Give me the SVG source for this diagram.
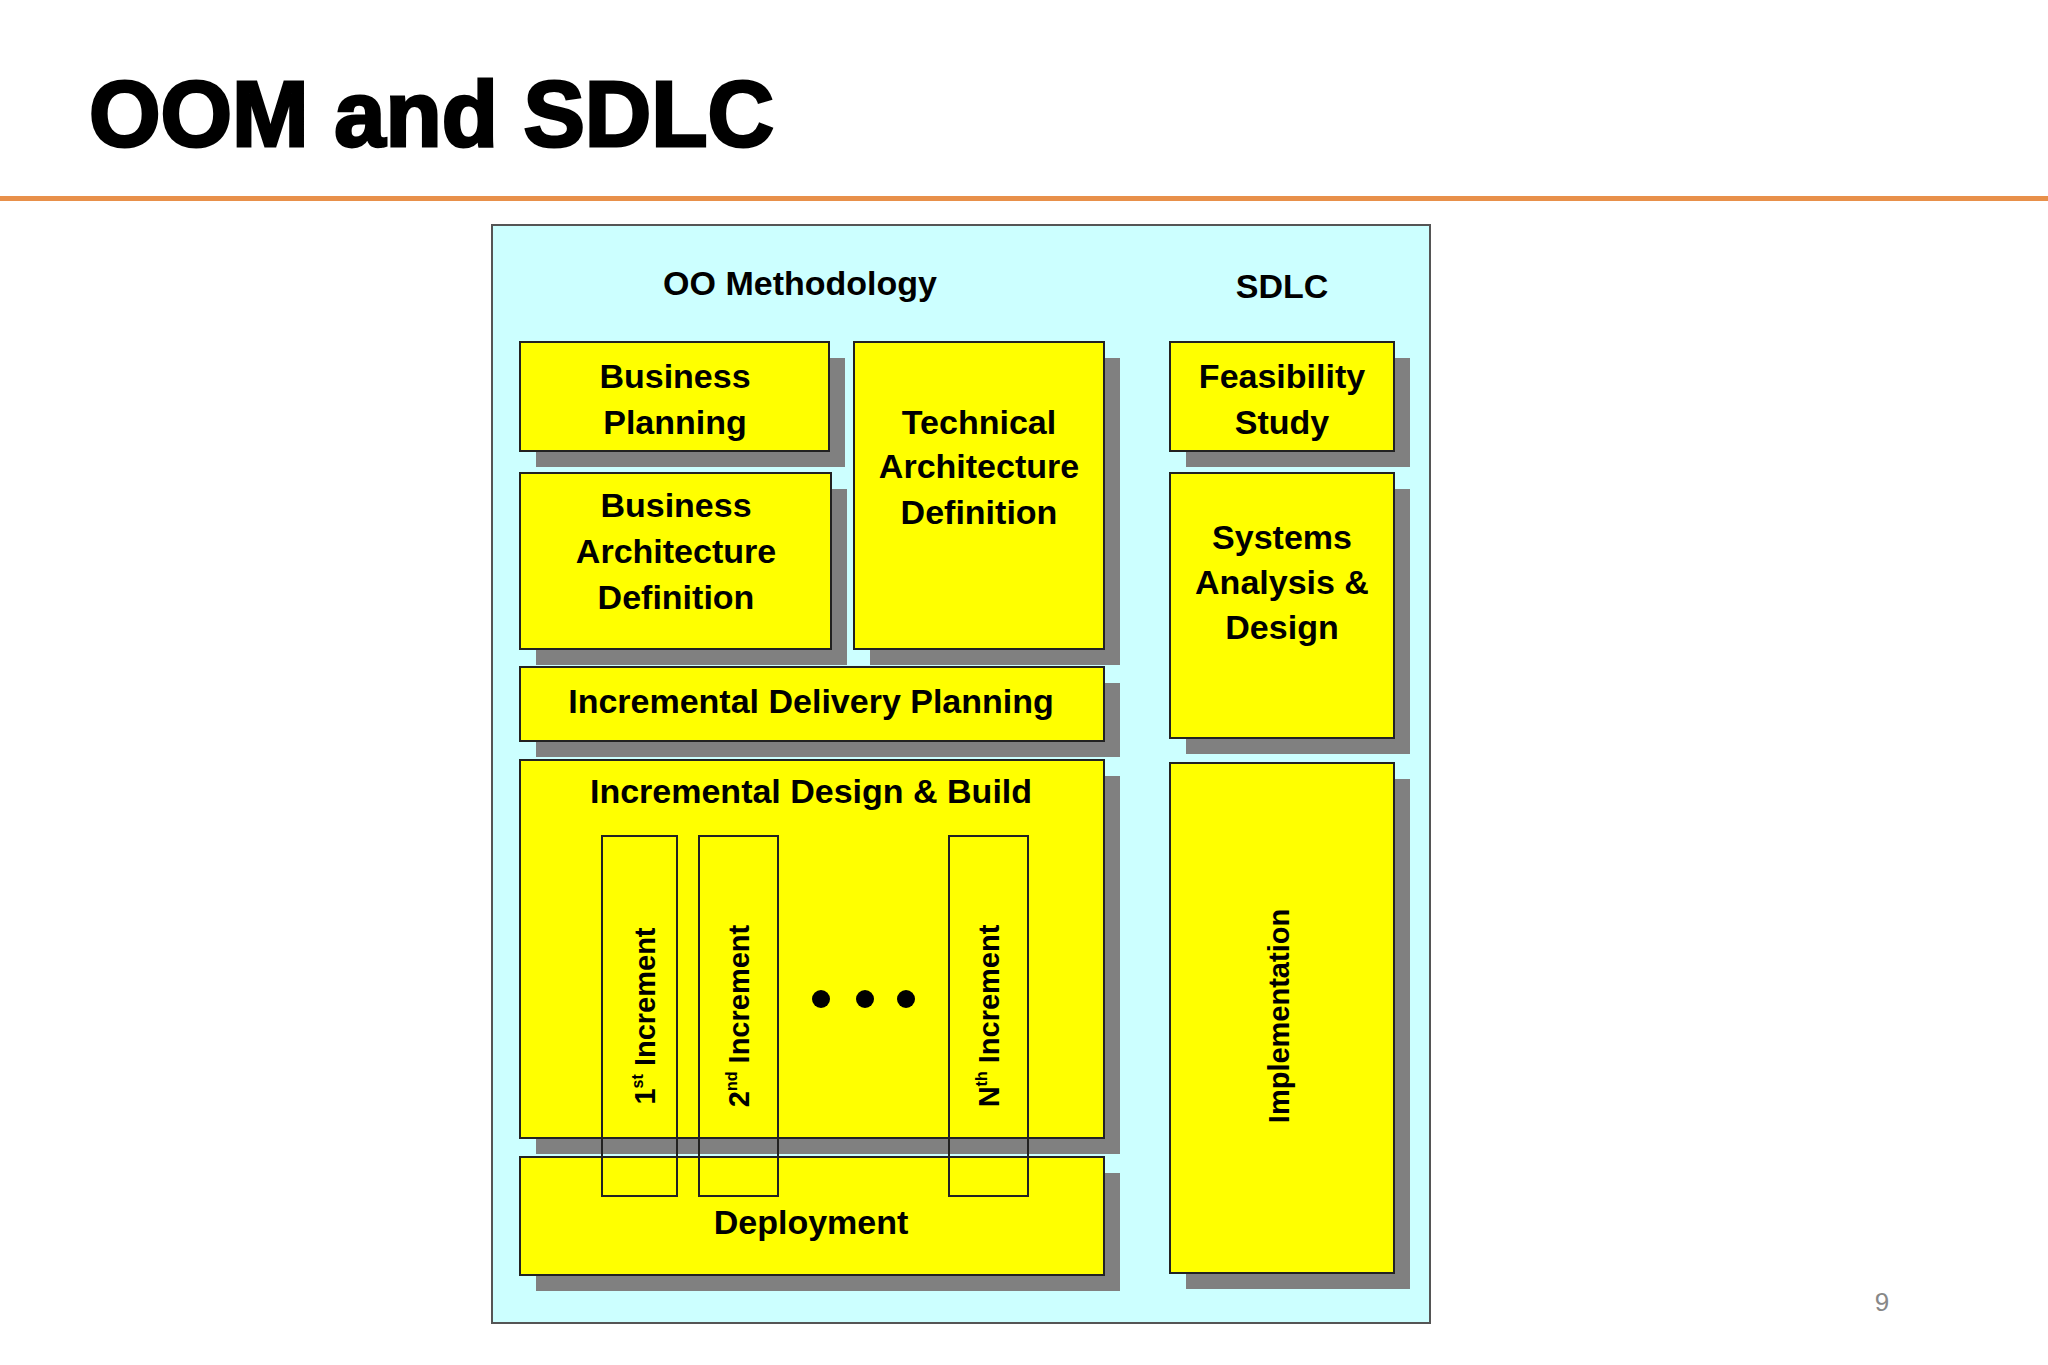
<svg xmlns="http://www.w3.org/2000/svg" width="2048" height="1365" viewBox="0 0 2048 1365">
<defs><style>
.box{fill:#ffff00;stroke:#222;stroke-width:2}
.sh{fill:#808080}
.t{font-family:"Liberation Sans",Arial,sans-serif;font-weight:bold;font-size:34px;fill:#000;text-anchor:middle}
.r{font-family:"Liberation Sans",Arial,sans-serif;font-weight:bold;font-size:29px;fill:#000;text-anchor:middle}
.inc{fill:none;stroke:#222;stroke-width:2}
</style></defs>
<rect width="2048" height="1365" fill="#fff"/>
<text x="89" y="146" font-family="'Liberation Sans',Arial,sans-serif" font-weight="900" font-size="92" fill="#000" stroke="#000" stroke-width="3">OOM and SDLC</text>
<rect x="0" y="196" width="2048" height="5" fill="#E8904A"/>
<rect x="492" y="225" width="938" height="1098" fill="#ccffff" stroke="#555" stroke-width="2"/>
<text class="t" x="800" y="295" font-size="36">OO Methodology</text>
<text class="t" x="1282" y="298" font-size="36">SDLC</text>
<g id="bp"><rect class="sh" x="536" y="358" width="309" height="109"/><rect class="box" x="520" y="342" width="309" height="109"/><text class="t" x="675" y="388">Business</text><text class="t" x="675" y="434">Planning</text></g>
<g id="tad"><rect class="sh" x="870" y="358" width="250" height="307"/><rect class="box" x="854" y="342" width="250" height="307"/><text class="t" x="979" y="434">Technical</text><text class="t" x="979" y="478">Architecture</text><text class="t" x="979" y="524">Definition</text></g>
<g id="bad"><rect class="sh" x="536" y="489" width="311" height="176"/><rect class="box" x="520" y="473" width="311" height="176"/><text class="t" x="676" y="517">Business</text><text class="t" x="676" y="563">Architecture</text><text class="t" x="676" y="609">Definition</text></g>
<g id="idp"><rect class="sh" x="536" y="683" width="584" height="74"/><rect class="box" x="520" y="667" width="584" height="74"/><text class="t" x="811" y="713">Incremental Delivery Planning</text></g>
<g id="idb"><rect class="sh" x="536" y="776" width="584" height="378"/><rect class="box" x="520" y="760" width="584" height="378"/><text class="t" x="811" y="803">Incremental Design &amp; Build</text></g>
<g id="dep"><rect class="sh" x="536" y="1173" width="584" height="118"/><rect class="box" x="520" y="1157" width="584" height="118"/><text class="t" x="811" y="1234">Deployment</text></g>
<g id="fs"><rect class="sh" x="1186" y="358" width="224" height="109"/><rect class="box" x="1170" y="342" width="224" height="109"/><text class="t" x="1282" y="388">Feasibility</text><text class="t" x="1282" y="434">Study</text></g>
<g id="sad"><rect class="sh" x="1186" y="489" width="224" height="265"/><rect class="box" x="1170" y="473" width="224" height="265"/><text class="t" x="1282" y="549">Systems</text><text class="t" x="1282" y="594">Analysis &amp;</text><text class="t" x="1282" y="639">Design</text></g>
<g id="impl"><rect class="sh" x="1186" y="779" width="224" height="510"/><rect class="box" x="1170" y="763" width="224" height="510"/><text class="r" font-size="36" transform="translate(1289,1016) rotate(-90)">Implementation</text></g>
<g id="increments">
<rect class="inc" x="602" y="836" width="75" height="360"/>
<text class="r" transform="translate(655,1016) rotate(-90)">1<tspan font-size="16" dy="-12">st</tspan><tspan dy="12"> Increment</tspan></text>
<rect class="inc" x="699" y="836" width="79" height="360"/>
<text class="r" transform="translate(749,1016) rotate(-90)">2<tspan font-size="16" dy="-12">nd</tspan><tspan dy="12"> Increment</tspan></text>
<rect class="inc" x="949" y="836" width="79" height="360"/>
<text class="r" transform="translate(999,1016) rotate(-90)">N<tspan font-size="16" dy="-12">th</tspan><tspan dy="12"> Increment</tspan></text>
<circle cx="821" cy="999" r="9"/><circle cx="865" cy="999" r="9"/><circle cx="906" cy="999" r="9"/>
</g>
<g id="connectors"/>
<text x="1882" y="1311" font-family="'Liberation Sans',Arial,sans-serif" font-size="26" fill="#888" text-anchor="middle">9</text>
</svg>
